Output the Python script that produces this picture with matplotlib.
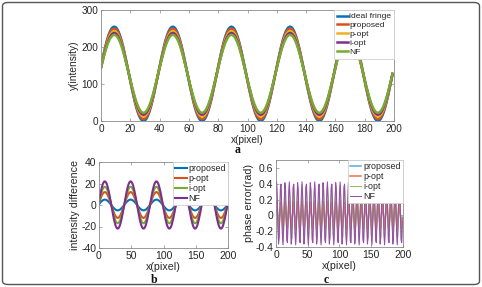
import numpy as np
import matplotlib
matplotlib.use("Agg")
import matplotlib.pyplot as plt
from matplotlib.patches import FancyBboxPatch

plt.rcParams['font.family'] = ['Liberation Sans', 'DejaVu Sans']

# ---------------- data ----------------
pixels = np.arange(0, 200)            # x(pixel) sample positions
fringe_period = 40.0                  # period of the fringe in pixels
fringe_phase = 0.154                  # phase at x = 0 (rad)
fringe_offset = 127.5                 # mean intensity

# panel a: fringe amplitudes
a_names = ["ideal fringe", "proposed", "p-opt", "i-opt", "NF"]
a_amplitudes = [127.5, 122.5, 115.5, 110.5, 105.5]
a_colors = ["#0072BD", "#D95319", "#EDB120", "#7E2F8E", "#77AC30"]

# panel b: intensity difference amplitudes
b_names = ["proposed", "p-opt", "i-opt", "NF"]
b_amplitudes = [5.0, 12.0, 17.0, 22.0]
b_colors = ["#0072BD", "#D95319", "#77AC30", "#7E2F8E"]

# panel c: phase error
c_names = ["proposed", "p-opt", "i-opt", "NF"]
c_amplitudes = [0.09, 0.18, 0.37, 0.40]
c_offsets = [0.0, 0.0, 0.02, 0.025]
c_period = 40.0 / 6.0
c_phase = 0.7
c_colors = ["#5AAEE0", "#E8704A", "#8BC34A", "#9A4FB0"]
c_widths = [1.1, 1.1, 0.7, 0.75]

# ---------------- figure ----------------
W, H = 482, 287
fig = plt.figure(figsize=(W / 100, H / 100), dpi=100)

def ax_px(l, r, t, b):
    return fig.add_axes([l / W, 1 - b / H, (r - l) / W, (b - t) / H])

text_col = "#262626"
axis_col = "#8a8a8a"

def style(ax, fs):
    for s in ax.spines.values():
        s.set_color(axis_col)
        s.set_linewidth(0.6)
    ax.tick_params(direction='in', length=2.5, width=0.5, colors=axis_col,
                   labelcolor=text_col, labelsize=fs, top=True, right=True, pad=2)

def legend(ax, fs, spacing, pad):
    leg = ax.legend(loc='upper right', fontsize=fs, borderaxespad=0, fancybox=False,
                    framealpha=1, edgecolor="#d0d0d0", handlelength=1.3, handletextpad=0.2,
                    labelspacing=spacing, borderpad=pad)
    leg.get_frame().set_linewidth(0.6)
    for t in leg.get_texts():
        t.set_color(text_col)
    return leg

# panel a
axa = ax_px(101, 394, 10, 121)
for name, amp, col in zip(a_names, a_amplitudes, a_colors):
    y = fringe_offset + amp * np.sin(2 * np.pi * pixels / fringe_period + fringe_phase)
    axa.plot(pixels, y, color=col, lw=1.8, label=name)
axa.set_xlim(0, 200)
axa.set_ylim(0, 300)
axa.set_xticks(np.arange(0, 201, 20))
axa.set_yticks([0, 100, 200, 300])
style(axa, 7.2)
axa.set_xlabel("x(pixel)", fontsize=7.3, color=text_col, labelpad=1)
axa.set_ylabel("y(intensity)", fontsize=7.3, color=text_col, labelpad=2)
legend(axa, 6.1, 0.12, 0.3)

# panel b
axb = ax_px(99, 228, 162, 248)
for name, amp, col in zip(b_names, b_amplitudes, b_colors):
    y = amp * np.sin(2 * np.pi * pixels / fringe_period + fringe_phase)
    axb.plot(pixels, y, color=col, lw=1.5, label=name)
axb.set_xlim(0, 200)
axb.set_ylim(-40, 40)
axb.set_xticks([0, 50, 100, 150, 200])
axb.set_yticks([-40, -20, 0, 20, 40])
axb.set_yticklabels(["-40", "-20", "0", "20", "40"])
style(axb, 7.5)
axb.set_xlabel("x(pixel)", fontsize=7.7, color=text_col, labelpad=1)
axb.set_ylabel("intensity difference", fontsize=7.7, color=text_col, labelpad=1)
legend(axb, 6.4, 0.1, 0.25)

# panel c
axc = ax_px(276, 403, 160, 247)
for name, amp, off, col, lw in zip(c_names, c_amplitudes, c_offsets, c_colors, c_widths):
    y = off + amp * np.sin(2 * np.pi * pixels / c_period + c_phase)
    axc.plot(pixels, y, color=col, lw=lw, label=name)
axc.set_xlim(0, 200)
axc.set_ylim(-0.4, 0.7)
axc.set_xticks([0, 50, 100, 150, 200])
axc.set_yticks([-0.4, -0.2, 0, 0.2, 0.4, 0.6])
axc.set_yticklabels(["-0.4", "-0.2", "0", "0.2", "0.4", "0.6"])
style(axc, 7.5)
axc.set_xlabel("x(pixel)", fontsize=7.7, color=text_col, labelpad=1)
axc.set_ylabel("phase error(rad)", fontsize=7.7, color=text_col, labelpad=1)
legend(axc, 6.4, 0.1, 0.25)

# panel letters
for lab, px, py in [("a", 238, 153), ("b", 154, 283), ("c", 326, 283)]:
    fig.text(px / W, 1 - py / H, lab, fontsize=8.5, fontweight='bold',
             family=['Liberation Serif', 'DejaVu Serif'], ha='center', va='baseline',
             color="#111111")

# outer rounded frame
frame = FancyBboxPatch((2.5 / W, 2.5 / H), (W - 5) / W, (H - 5) / H,
                       boxstyle="round,pad=0,rounding_size=0.012",
                       transform=fig.transFigure, fill=False,
                       edgecolor="#555555", linewidth=1.0)
fig.patches.append(frame)

fig.savefig("out.png", dpi=100)
